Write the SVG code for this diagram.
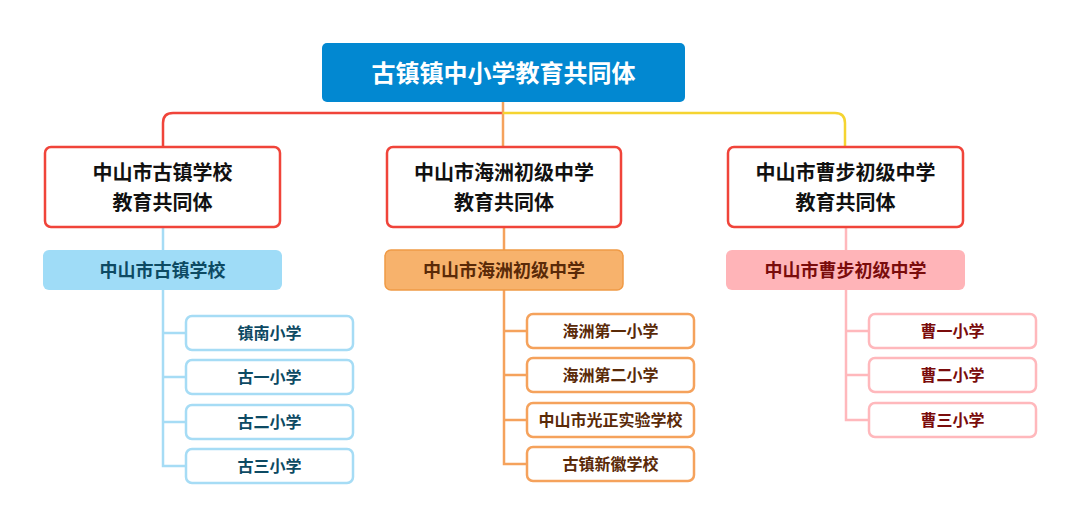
<svg xmlns="http://www.w3.org/2000/svg" width="1080" height="528" viewBox="0 0 1080 528">
<style>
text{font-family:"Noto Sans CJK SC","Noto Sans",sans-serif;font-weight:bold;text-anchor:middle}
.l2{fill:#fff;stroke:#f0443a;stroke-width:2.5}
.t2{font-size:20px;fill:#111}
.leaf{fill:#fff;stroke-width:2.5}
.tl{font-size:16px}
.c{fill:none;stroke-width:2.5}
</style>
<g id="connectors">
<path class="c" stroke="#f0443a" d="M503,113 H173 Q163,113 163,123 V147"/>
<path class="c" stroke="#f5a25c" d="M503,102 V147"/>
<path class="c" stroke="#f5d431" d="M503,113 H835 Q845,113 845,123 V147"/>
<path class="c" stroke="#a6dcf5" d="M163,227 V250 M163,290 V466 H186 M163,333 H186 M163,377 H186 M163,422 H186"/>
<path class="c" stroke="#f5a25c" d="M504,227 V250 M504,290 V464 H527 M504,331 H527 M504,375 H527 M504,420 H527"/>
<path class="c" stroke="#ffb8bc" d="M846,227 V250 M846,290 V420 H869 M846,331 H869 M846,375 H869"/>
</g>
<g id="root"><rect x="322" y="43" width="363" height="59" rx="5" fill="#0288d1"/><text x="503.5" y="82" font-size="24" fill="#fff">古镇镇中小学教育共同体</text></g>
<g id="n1"><rect class="l2" x="45" y="147" width="235" height="80" rx="6"/><text class="t2" x="162.5" y="180">中山市古镇学校</text><text class="t2" x="162.5" y="210">教育共同体</text></g>
<g id="n2"><rect class="l2" x="387" y="147" width="234" height="80" rx="6"/><text class="t2" x="504" y="180">中山市海洲初级中学</text><text class="t2" x="504" y="210">教育共同体</text></g>
<g id="n3"><rect class="l2" x="728" y="147" width="235" height="80" rx="6"/><text class="t2" x="845.5" y="180">中山市曹步初级中学</text><text class="t2" x="845.5" y="210">教育共同体</text></g>
<g id="s1"><rect x="43" y="250" width="239" height="40" rx="6" fill="#9fdcf7"/><text x="162.5" y="277" font-size="18" fill="#0d4a63">中山市古镇学校</text></g>
<g id="s2"><rect x="385" y="250" width="238" height="40" rx="6" fill="#f7b26c" stroke="#f09a45" stroke-width="1.5"/><text x="504" y="277" font-size="18" fill="#5a2a08">中山市海洲初级中学</text></g>
<g id="s3"><rect x="726" y="250" width="239" height="40" rx="6" fill="#ffb4b8"/><text x="845.5" y="277" font-size="18" fill="#7a0c0c">中山市曹步初级中学</text></g>
<g fill="#0d4a63">
<g id="a1"><rect class="leaf" stroke="#a6dcf5" x="186" y="316" width="167" height="34" rx="6"/><text class="tl" x="269.5" y="339" fill="#0d4a63">镇南小学</text></g>
<g id="a2"><rect class="leaf" stroke="#a6dcf5" x="186" y="360" width="167" height="34" rx="6"/><text class="tl" x="269.5" y="383" fill="#0d4a63">古一小学</text></g>
<g id="a3"><rect class="leaf" stroke="#a6dcf5" x="186" y="405" width="167" height="34" rx="6"/><text class="tl" x="269.5" y="428" fill="#0d4a63">古二小学</text></g>
<g id="a4"><rect class="leaf" stroke="#a6dcf5" x="186" y="449" width="167" height="34" rx="6"/><text class="tl" x="269.5" y="472" fill="#0d4a63">古三小学</text></g>
</g>
<g id="b1"><rect class="leaf" stroke="#f5a25c" x="527" y="314" width="167" height="34" rx="6"/><text class="tl" x="610.5" y="337" fill="#5a2a08">海洲第一小学</text></g>
<g id="b2"><rect class="leaf" stroke="#f5a25c" x="527" y="358" width="167" height="34" rx="6"/><text class="tl" x="610.5" y="381" fill="#5a2a08">海洲第二小学</text></g>
<g id="b3"><rect class="leaf" stroke="#f5a25c" x="527" y="403" width="167" height="34" rx="6"/><text class="tl" x="610.5" y="426" fill="#5a2a08">中山市光正实验学校</text></g>
<g id="b4"><rect class="leaf" stroke="#f5a25c" x="527" y="447" width="167" height="34" rx="6"/><text class="tl" x="610.5" y="470" fill="#5a2a08">古镇新徽学校</text></g>
<g id="c1"><rect class="leaf" stroke="#ffb8bc" x="869" y="314" width="167" height="34" rx="6"/><text class="tl" x="952.5" y="337" fill="#7a0c0c">曹一小学</text></g>
<g id="c2"><rect class="leaf" stroke="#ffb8bc" x="869" y="358" width="167" height="34" rx="6"/><text class="tl" x="952.5" y="381" fill="#7a0c0c">曹二小学</text></g>
<g id="c3"><rect class="leaf" stroke="#ffb8bc" x="869" y="403" width="167" height="34" rx="6"/><text class="tl" x="952.5" y="426" fill="#7a0c0c">曹三小学</text></g>
</svg>
